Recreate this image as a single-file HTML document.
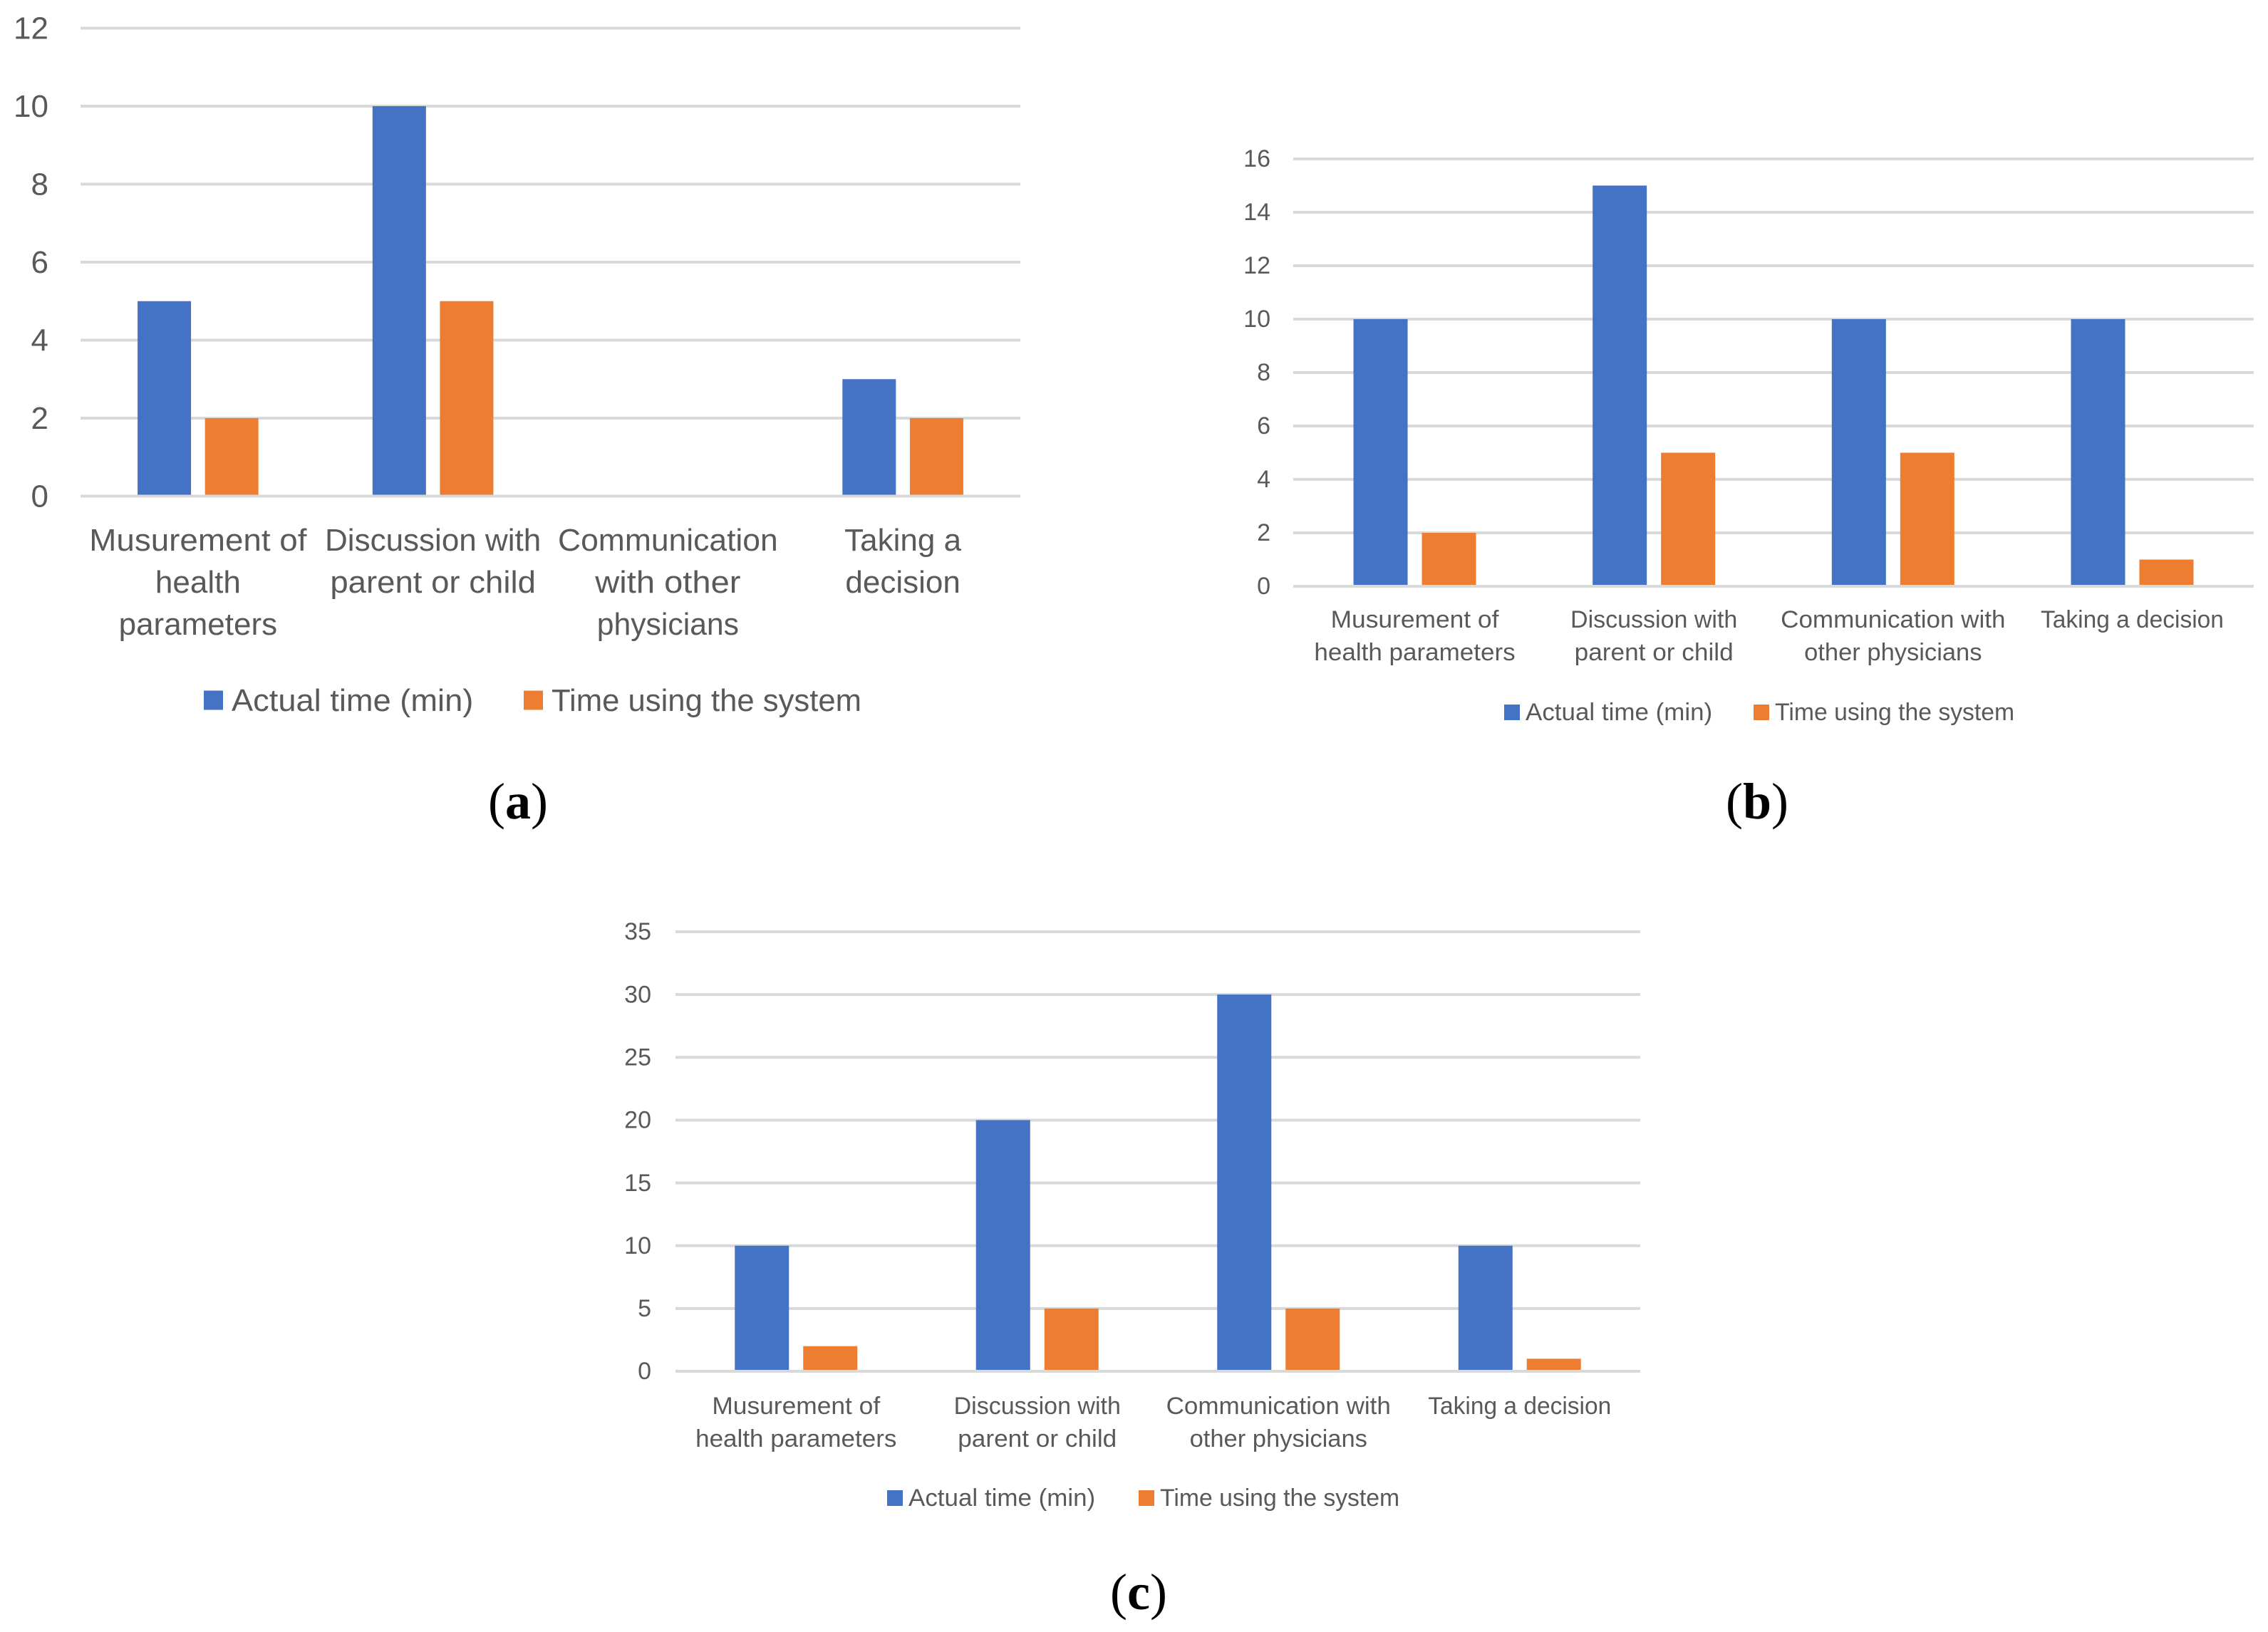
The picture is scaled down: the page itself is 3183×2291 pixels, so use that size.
<!DOCTYPE html>
<html lang="en">
<head>
<meta charset="utf-8">
<title>Time comparison charts</title>
<style>
  html, body { margin: 0; padding: 0; background: #fff; }
  svg { display: block; }
  text { font-family: "Liberation Sans", sans-serif; fill: #595959; }
  .caption, .caption tspan { font-family: "Liberation Serif", serif; fill: #000; }
</style>
</head>
<body>
<svg id="figure" xmlns="http://www.w3.org/2000/svg" width="3183" height="2291" viewBox="0 0 3183 2291"></svg>
<script>
// Panel (a)
const categoriesA = [["Musurement of", "health", "parameters"], ["Discussion with", "parent or child"], ["Communication", "with other", "physicians"], ["Taking a", "decision"]];
const actualA = [5, 10, 0, 3];
const systemA = [2, 5, 0, 2];
const ticksA = [0, 2, 4, 6, 8, 10, 12];

// Panel (b)
const categoriesB = [["Musurement of", "health parameters"], ["Discussion with", "parent or child"], ["Communication with", "other physicians"], ["Taking a decision"]];
const actualB = [10, 15, 10, 10];
const systemB = [2, 5, 5, 1];
const ticksB = [0, 2, 4, 6, 8, 10, 12, 14, 16];

// Panel (c)
const categoriesC = [["Musurement of", "health parameters"], ["Discussion with", "parent or child"], ["Communication with", "other physicians"], ["Taking a decision"]];
const actualC = [10, 20, 30, 10];
const systemC = [2, 5, 5, 1];
const ticksC = [0, 5, 10, 15, 20, 25, 30, 35];

const seriesNames = ["Actual time (min)", "Time using the system"];
const seriesColors = ["#4472C4", "#ED7D31"];

// Horizontal width correction per string, to match the reference typeface
const textStretch = {
  "Musurement of": 1.04, "health parameters": 1.03, "parent or child": 1.035,
  "Communication": 1.01, "Communication with": 1.03, "other physicians": 1.015,
  "with other": 1.07, "physicians": 0.97, "Taking a decision": 0.985,
  "Actual time (min)": 1.028, "Time using the system": 0.992
};

const NS = "http://www.w3.org/2000/svg";
const root = document.getElementById("figure");

function add(parent, tag, attrs, content) {
  const el = document.createElementNS(NS, tag);
  for (const k in attrs) el.setAttribute(k, attrs[k]);
  if (content !== undefined) el.textContent = content;
  parent.appendChild(el);
  return el;
}

function fit(el, str) {
  const s = textStretch[str];
  if (!s) return;
  el.setAttribute("textLength", el.getComputedTextLength() * s);
  el.setAttribute("lengthAdjust", "spacingAndGlyphs");
}

function drawPanel(p, categories, actual, system, ticks) {
  const g = add(root, "g", {});
  
  

  const maxTick = ticks[ticks.length - 1];
  const yScale = v => p.base - (v / maxTick) * (p.base - p.top);
  const band = (p.bandR - p.bandL) / categories.length;
  const xCenter = i => p.bandL + band * (i + 0.5);

  ticks.forEach(t => {
    const line = add(g, "rect", { x: p.left, y: yScale(t) - 2, width: p.right - p.left, height: 4, fill: "#d9d9d9" });
    
    
    const lab = add(g, "text", { x: p.tickX, y: yScale(t) + p.font * 0.36 - 1, "text-anchor": "end", "font-size": p.font }, String(t));
    
    
  });

  [actual, system].forEach((vals, s) => {
    vals.forEach((v, i) => {
      if (v === 0) return;
      const x = xCenter(i) + (s === 0 ? -(p.barW + p.barGap / 2) : p.barGap / 2);
      const bar = add(g, "rect", { x: x, y: yScale(v), width: p.barW, height: p.base - 2 - yScale(v), fill: seriesColors[s] });
      
      
    });
  });

  categories.forEach((lines, i) => {
    lines.forEach((ln, j) => {
      const t = add(g, "text", { x: xCenter(i), y: p.labelY + j * p.labelPitch, "text-anchor": "middle", "font-size": p.font }, ln);
      
      
      fit(t, ln);
    });
  });

  seriesNames.forEach((name, s) => {
    const sw = add(g, "rect", { x: p.legendX[s], y: p.legendY - p.swatch / 2, width: p.swatch, height: p.swatch, fill: seriesColors[s] });
    
    
    const t = add(g, "text", { x: p.legendX[s] + p.swatch + p.swatchGap, y: p.legendY + p.font * 0.36 - 1, "font-size": p.font }, name);
    
    
    fit(t, name);
  });

  const cap = add(g, "text", { class: "caption", x: p.capX, y: p.capY, "text-anchor": "middle", "font-size": 72 });
  
  
  add(cap, "tspan", {}, "(");
  add(cap, "tspan", { "font-weight": "bold" }, p.id);
  add(cap, "tspan", {}, ")");
}

drawPanel({ id: "a", left: 113, right: 1432, bandL: 113, bandR: 1432, top: 39.5, base: 696.5, tickX: 68, font: 44, barW: 75, barGap: 19.6,
  labelY: 773, labelPitch: 59, legendX: [286, 735], legendY: 983, swatch: 27, swatchGap: 12, capX: 727, capY: 1149 },
  categoriesA, actualA, systemA, ticksA);

drawPanel({ id: "b", left: 1815, right: 3163, bandL: 1817.7, bandR: 3160.3, top: 223, base: 823, tickX: 1783, font: 34, barW: 76, barGap: 20,
  labelY: 881, labelPitch: 46, legendX: [2111, 2461], legendY: 1000, swatch: 22, swatchGap: 8, capX: 2466, capY: 1149 },
  categoriesB, actualB, systemB, ticksB);

drawPanel({ id: "c", left: 948, right: 2302, bandL: 948, bandR: 2302, top: 1308, base: 1925, tickX: 914, font: 34, barW: 76, barGap: 20,
  labelY: 1985, labelPitch: 46, legendX: [1245, 1598], legendY: 2103, swatch: 22, swatchGap: 8, capX: 1598, capY: 2259 },
  categoriesC, actualC, systemC, ticksC);
</script>
</body>
</html>
